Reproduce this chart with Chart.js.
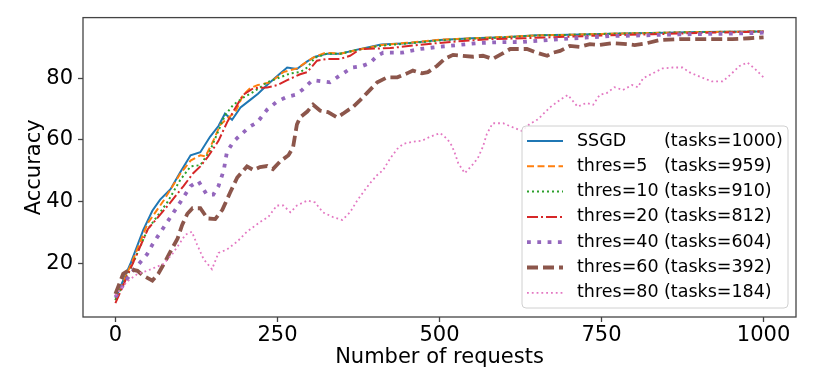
<!DOCTYPE html>
<html>
<head>
<meta charset="utf-8">
<script src="https://cdn.jsdelivr.net/npm/chart.js@4.4.1/dist/chart.umd.min.js"></script>
<style>
  html, body { margin: 0; padding: 0; background: #fff; }
  #wrap { width: 830px; height: 374px; }
</style>
</head>
<body>
<div id="wrap"><canvas id="chart" width="830" height="374"></canvas></div>
<script>
// Legend text
const seriesNames = ['SSGD', 'thres=5', 'thres=10', 'thres=20', 'thres=40', 'thres=60', 'thres=80'];
const taskCounts = [1000, 959, 910, 812, 604, 392, 184];

// Axis ticks
const xTicks = [0, 250, 500, 750, 1000];
const yTicks = [20, 40, 60, 80];

// Values (number of requests -> accuracy)
const ssgdX = [0, 23, 43, 57, 69, 85, 100, 116, 131, 146, 159, 169, 180, 193, 208, 220, 234, 251, 265, 280, 296, 308, 327, 347, 373, 410, 450, 500, 550, 600, 650, 700, 750, 800, 850, 900, 950, 1000];
const ssgdY = [8.5, 19.7, 30.8, 37, 40.6, 44, 49.5, 55, 56, 61, 64.5, 68.5, 66.5, 70.5, 73, 75, 77.8, 81, 83.5, 83, 85.5, 87, 88, 88, 89.3, 91, 91.4, 92.4, 93, 93.3, 94, 94.1, 94.4, 94.6, 94.8, 95, 95.1, 95.2];

const thres5X = [0, 25, 50, 75, 100, 116, 131, 139, 151, 162, 173, 185, 197, 208, 220, 239, 259, 280, 305, 324, 347, 373, 410, 450, 500, 550, 600, 650, 700, 750, 800, 850, 900, 950, 1000];
const thres5Y = [8, 20, 33, 40.5, 49, 53.3, 55, 54.6, 59.7, 65, 67, 69, 74.6, 76.8, 77.8, 78.7, 82, 83.2, 86.7, 88.3, 88, 89.2, 90.8, 91.5, 92.5, 93, 93.4, 93.9, 94.1, 94.4, 94.6, 94.8, 95, 95.1, 95.2];

const thres10X = [0, 25, 50, 80, 100, 116, 131, 146, 157, 169, 182, 197, 213, 223, 234, 254, 270, 285, 296, 308, 327, 347, 373, 410, 450, 500, 550, 600, 650, 700, 750, 800, 850, 900, 950, 1000];
const thres10Y = [8, 19, 31, 39.7, 47, 51.4, 51.8, 56.5, 62, 68, 71.4, 73.7, 75.6, 77, 78.7, 80.3, 81.6, 82, 83.5, 86.7, 88, 88, 89.2, 90.6, 91.3, 92.3, 92.9, 93.3, 93.9, 94.1, 94.4, 94.6, 94.8, 95, 95.1, 95.2];

const thres20X = [0, 25, 50, 85, 105, 120, 131, 143, 159, 173, 188, 197, 213, 234, 250, 265, 285, 296, 311, 327, 347, 362, 378, 424, 475, 527, 578, 629, 700, 750, 829, 900, 1000];
const thres20Y = [7, 19, 31, 39.7, 45, 49.2, 51.4, 54.6, 59.7, 66, 71.4, 74.6, 76.8, 77, 77.8, 79.4, 81.3, 82, 85.7, 86.3, 86.3, 87.3, 89.5, 89.8, 91, 92, 92.7, 93, 93.5, 93.9, 94.3, 94.7, 95.2];

const thres40X = [0, 23, 49, 57, 72, 88, 103, 116, 128, 141, 151, 159, 167, 172, 182, 195, 208, 219, 234, 249, 265, 277, 288, 304, 319, 331, 347, 365, 381, 393, 404, 413, 442, 470, 498, 529, 558, 589, 629, 673, 716, 763, 809, 855, 912, 952, 1000];
const thres40Y = [8.9, 16.5, 22.9, 26, 30.8, 35.9, 40.7, 45, 46.6, 42.2, 42.2, 45, 50, 56, 59.4, 62, 64.4, 65.7, 69.8, 72.4, 74, 74.6, 76.2, 79.4, 79, 78.7, 81, 83.5, 84, 85, 87.3, 88.3, 88.3, 89.5, 90.2, 90.8, 91.4, 91.7, 91.8, 92.5, 93.1, 93.7, 93.9, 94.2, 94.4, 94.5, 94.8];

const thres60X = [0, 12, 23, 34, 43, 57, 66, 77, 85, 96, 103, 111, 119, 131, 142, 154, 165, 177, 188, 203, 213, 223, 234, 243, 254, 267, 274, 280, 285, 296, 305, 316, 328, 342, 351, 367, 378, 388, 404, 419, 435, 450, 459, 473, 482, 496, 508, 521, 536, 552, 567, 582, 596, 609, 635, 650, 666, 675, 686, 701, 716, 732, 747, 767, 789, 801, 820, 840, 871, 901, 932, 952, 978, 1000];
const thres60Y = [10, 16.5, 18, 17.5, 15.9, 14.3, 16.5, 20.6, 23.8, 28, 32.4, 36, 37.8, 37.8, 34.5, 34.3, 37.3, 42.9, 47.8, 51.4, 50.2, 51.2, 51.5, 50.5, 53, 55, 57.5, 65, 67.3, 69.2, 71.4, 69.5, 69, 67.3, 68.5, 70.8, 73, 75.2, 78.7, 80.3, 80.3, 81.6, 82.5, 81.6, 82, 84, 86.3, 87.6, 87.3, 87, 87.3, 86.3, 87.9, 89.5, 89.5, 88.3, 87.3, 88.3, 88.9, 90.5, 90.2, 91.1, 90.8, 91.4, 91.1, 90.8, 91.4, 92.4, 92.7, 92.7, 92.7, 92.7, 93, 93.3];

const thres80X = [0, 18, 34, 49, 74, 88, 98, 108, 118, 126, 136, 149, 159, 172, 188, 203, 223, 236, 249, 259, 270, 280, 296, 308, 320, 336, 350, 362, 373, 382, 393, 404, 413, 424, 435, 444, 459, 473, 485, 501, 512, 519, 524, 529, 539, 550, 559, 567, 573, 582, 598, 613, 627, 639, 652, 670, 686, 698, 713, 727, 737, 747, 758, 770, 783, 797, 806, 814, 829, 844, 860, 875, 886, 904, 920, 937, 948, 963, 975, 986, 1000];
const thres80Y = [9.5, 14, 16.5, 17.5, 19.7, 23, 26, 29.2, 30.2, 26, 21.3, 18, 23.3, 24.4, 27, 30.2, 33.3, 35, 38.7, 38.7, 36.5, 38.7, 40.3, 39.7, 36.5, 34.9, 34, 36.5, 40.3, 42.9, 46, 48.6, 50.2, 54, 57.1, 58.7, 59.4, 59.7, 61, 62.2, 60.3, 58.1, 55.5, 52.4, 49.2, 51.7, 54, 57.8, 61.9, 65.4, 65.4, 64.1, 62.9, 65.1, 66.7, 70.5, 73, 74.6, 70.8, 72, 71.4, 74.6, 75.2, 77.1, 76.2, 77.8, 77.1, 80, 81.6, 83.2, 83.5, 83.5, 81.9, 80.3, 79, 79, 81, 84, 85.1, 83.2, 80.3];

const xs = [ssgdX, thres5X, thres10X, thres20X, thres40X, thres60X, thres80X];
const ys = [ssgdY, thres5Y, thres10Y, thres20Y, thres40Y, thres60Y, thres80Y];

// matplotlib tab10 colours + line styles
const colors = ['#1f77b4', '#ff7f0e', '#2ca02c', '#d62728', '#9467bd', '#8c564b', '#e377c2'];
const widths = [2, 2, 2, 2, 3.8, 3.8, 1.8];
const dashes = [[], [7, 3.5], [2, 3], [11, 3, 2, 3], [3.8, 6.5], [11, 5], [1.8, 3]];

const FONT = 'DejaVu Sans';

const datasets = seriesNames.map((name, i) => ({
    label: name,
    data: xs[i].map((x, j) => ({ x: x, y: ys[i][j] })),
    borderColor: colors[i],
    borderWidth: widths[i],
    borderDash: dashes[i],
    borderCapStyle: 'butt',
    pointRadius: 0,
    tension: 0,
    fill: false,
    order: seriesNames.length - i // last series ends on top, like matplotlib
}));

// Frame around the plot area (all four spines)
const framePlugin = {
    id: 'frame',
    afterDraw(chart) {
        const { ctx, chartArea: a } = chart;
        ctx.save();
        ctx.strokeStyle = '#444';
        ctx.lineWidth = 1.3;
        ctx.strokeRect(a.left, a.top, a.right - a.left, a.bottom - a.top);
        ctx.restore();
    }
};

// Legend inside the axes, lower right, like plt.legend(loc='lower right')
const legendPlugin = {
    id: 'innerLegend',
    afterDraw(chart) {
        const { ctx, chartArea: a } = chart;
        const boxW = 266, boxH = 182;
        const bx = a.right - 8 - boxW;
        const by = a.bottom - 9 - boxH;
        const rowH = 25.3;
        ctx.save();
        ctx.beginPath();
        ctx.roundRect(bx, by, boxW, boxH, 4);
        ctx.fillStyle = 'rgba(255,255,255,0.85)';
        ctx.fill();
        ctx.strokeStyle = '#d0d0d0';
        ctx.lineWidth = 1;
        ctx.stroke();
        ctx.font = '17.5px "' + FONT + '"';
        ctx.textBaseline = 'middle';
        ctx.fillStyle = '#000';
        seriesNames.forEach((name, i) => {
            const cy = by + 15 + i * rowH;
            ctx.beginPath();
            ctx.strokeStyle = colors[i];
            ctx.lineWidth = widths[i];
            ctx.setLineDash(dashes[i]);
            ctx.lineCap = 'butt';
            ctx.moveTo(bx + 5, cy);
            ctx.lineTo(bx + 41, cy);
            ctx.stroke();
            ctx.setLineDash([]);
            ctx.fillText(name, bx + 55, cy);
            ctx.fillText('(tasks=' + taskCounts[i] + ')', bx + 142, cy);
        });
        ctx.restore();
    }
};

new Chart(document.getElementById('chart'), {
    type: 'line',
    data: { datasets: datasets },
    options: {
        responsive: false,
        animation: false,
        devicePixelRatio: 1,
        layout: { padding: { top: 11, right: 34, left: 0, bottom: 0 } },
        plugins: {
            legend: { display: false },
            tooltip: { enabled: false }
        },
        scales: {
            x: {
                type: 'linear',
                min: -50,
                max: 1050,
                afterBuildTicks: s => { s.ticks = xTicks.map(v => ({ value: v })); },
                afterFit: s => { s.height = 57; },
                grid: { display: true, drawOnChartArea: false, drawTicks: true, tickLength: 5, tickColor: '#444', tickWidth: 1.3 },
                border: { display: false },
                ticks: { color: '#000', font: { family: FONT, size: 21 }, padding: 1, maxRotation: 0, autoSkip: false, callback: v => String(v) },
                title: { display: true, text: 'Number of requests', color: '#000', font: { family: FONT, size: 21 }, padding: { top: 0, bottom: 4 } }
            },
            y: {
                type: 'linear',
                min: 2.5,
                max: 99.7,
                afterBuildTicks: s => { s.ticks = yTicks.map(v => ({ value: v })); },
                afterFit: s => { s.width = 83; },
                grid: { display: true, drawOnChartArea: false, drawTicks: true, tickLength: 5, tickColor: '#444', tickWidth: 1.3 },
                border: { display: false },
                ticks: { color: '#000', font: { family: FONT, size: 21 }, padding: 5, callback: v => String(v) },
                title: { display: true, text: 'Accuracy', color: '#000', font: { family: FONT, size: 21 }, padding: { top: 22, bottom: 0 } }
            }
        }
    },
    plugins: [framePlugin, legendPlugin]
});
</script>
</body>
</html>
